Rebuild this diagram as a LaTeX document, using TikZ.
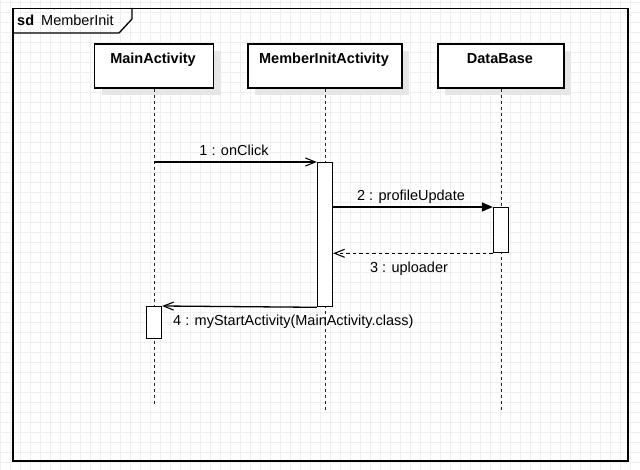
\documentclass[tikz,border=0pt]{standalone}
\usepackage{fontspec}
\setmainfont{Liberation Sans}
\usetikzlibrary{arrows.meta,shadows}
\definecolor{gridc}{HTML}{EFEFEF}
\definecolor{shadc}{HTML}{E6E6E6}
\begin{document}
\begin{tikzpicture}[x=1pt,y=-1pt,
  txt/.style={font=\fontsize{14.5}{17}\selectfont, inner sep=0pt},
  btxt/.style={font=\fontsize{14.5}{17}\selectfont\bfseries, inner sep=0pt, anchor=base},
  lifebox/.style={draw=black, line width=1.3pt, fill=white, minimum height=44pt,
     general shadow={fill=shadc, shadow xshift=7pt, shadow yshift=-7pt}},
  actbox/.style={draw=black, line width=1.3pt, fill=white, minimum width=15pt, inner sep=0pt},
  lifeline/.style={draw=black!85, line width=1pt, dash pattern=on 3pt off 3pt},
  msg/.style={draw=black, line width=1.3pt},
  openhead/.style={-{Straight Barb[length=10pt,width=8pt,line width=1.1pt]}},
  fullhead/.style={-{Triangle[length=11pt,width=9pt]}},
  retmsg/.style={draw=black, line width=1.1pt, dash pattern=on 3.5pt off 3pt}
]
\useasboundingbox (0,0) rectangle (640,470);
\fill[white] (0,0) rectangle (640,470);
\foreach \gx in {0,10,...,640} {\draw[gridc, line width=0.9pt] (\gx,0) -- (\gx,470);}
\foreach \gy in {2,12,...,470} {\draw[gridc, line width=0.9pt] (0,\gy) -- (640,\gy);}

% frame
\node[draw=black, line width=1.5pt, minimum width=615pt, minimum height=452pt, inner sep=0pt, anchor=north west] (frame) at (12,8) {};
\draw[line width=1.3pt] (12,33) -- (119,33) -- (132,19) -- (132,8);
\node[btxt, anchor=base west] (sd) at (17,26) {sd};
\node[txt, anchor=base west] (sdname) at (41,26) {MemberInit};

% lifeline heads
\node[lifebox, minimum width=119pt] (mA) at (154,66) {};
\node[lifebox, minimum width=154pt] (mI) at (325,66) {};
\node[lifebox, minimum width=126pt] (db) at (501,66) {};
\node[btxt] (mAt) at (153,64) {MainActivity};
\node[btxt] (mIt) at (324,64) {MemberInitActivity};
\node[btxt] (dbt) at (500,64) {DataBase};

% lifelines
\coordinate (mAend) at (154,405);
\coordinate (mIend) at (325,412);
\coordinate (dbend) at (501,412);
\draw[lifeline] (mA.south) -- (mAend);
\draw[lifeline] (mI.south) -- (mIend);
\draw[lifeline] (db.south) -- (dbend);

% activations
\node[actbox, minimum height=144pt, anchor=north] (act2) at (325,162) {};
\node[actbox, minimum height=45pt, anchor=north] (act3) at (501,207) {};
\node[actbox, minimum height=32pt, anchor=north] (act1) at (154,306) {};

% messages
\draw[msg, openhead] (mA |- act2.north) -- (act2.north west);
\node[txt, anchor=base] (l1) at (234,156) {1 : onClick};
\draw[msg, fullhead] (act2.east |- act3.north) -- (act3.north west);
\node[txt, anchor=base] (l2) at (411,201) {2 : profileUpdate};
\draw[retmsg, openhead] (act3.south west) -- (act2.east |- act3.south);
\node[txt, anchor=base] (l3) at (409,273) {3 : uploader};
\draw[msg, openhead] (act2.south west) -- (act1.north east);
\node[txt, anchor=base west] (l4) at (173,326) {4 : myStartActivity(MainActivity.class)};
\end{tikzpicture}
\end{document}
